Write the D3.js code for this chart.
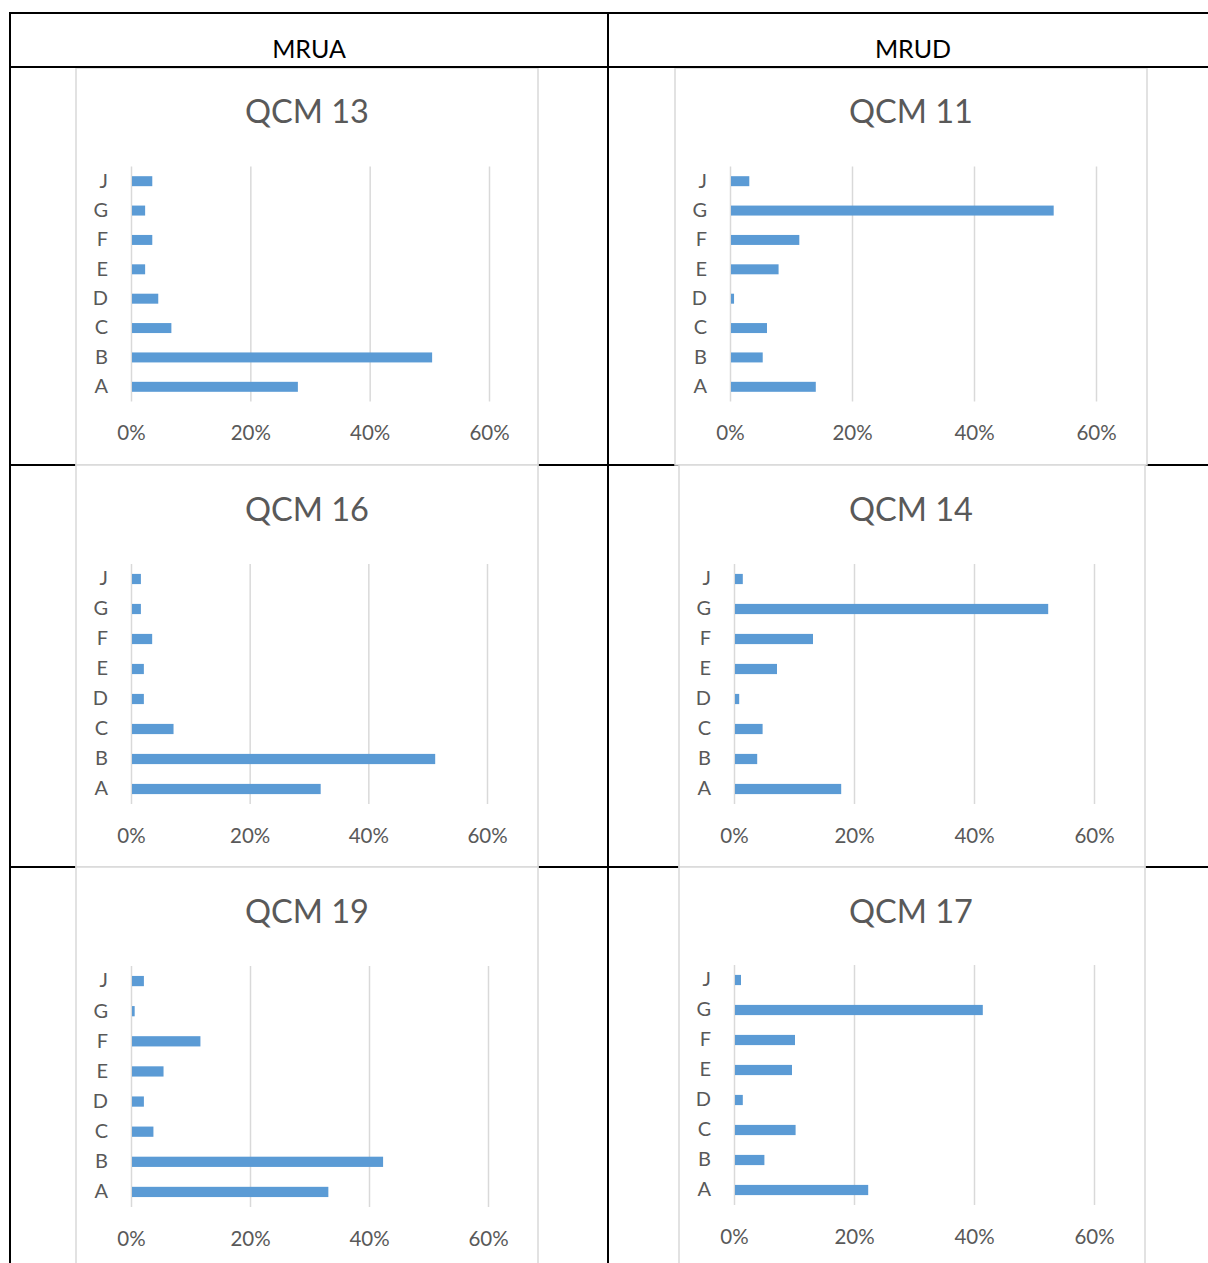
<!DOCTYPE html>
<html>
<head>
<meta charset="utf-8">
<script src="https://cdn.jsdelivr.net/npm/d3@7"></script>
<style>
  html, body { margin: 0; padding: 0; background: #fff; }
  svg { display: block; }
</style>
</head>
<body>
<svg id="chart" width="1208" height="1263"></svg>
<script>
// ---------- DATA ----------
const categories = ["J", "G", "F", "E", "D", "C", "B", "A"];
const columnHeaders = ["MRUA", "MRUD"];
const chartTitles = ["QCM 13", "QCM 11", "QCM 16", "QCM 14", "QCM 19", "QCM 17"];
const xTicks = [0, 20, 40, 60];

// values in percent, in category order J, G, F, E, D, C, B, A
const qcm13 = [3.4, 2.2, 3.4, 2.2, 4.4, 6.6, 50.3, 27.8];
const qcm11 = [3.0, 52.9, 11.2, 7.8, 0.5, 5.9, 5.2, 13.9];
const qcm16 = [1.5, 1.5, 3.4, 2.0, 2.0, 7.0, 51.1, 31.8];
const qcm14 = [1.3, 52.2, 13.0, 7.0, 0.7, 4.6, 3.7, 17.7];
const qcm19 = [2.0, 0.45, 11.5, 5.3, 2.0, 3.6, 42.2, 33.0];
const qcm17 = [1.0, 41.3, 10.0, 9.5, 1.3, 10.1, 4.9, 22.2];

const seriesList = [qcm13, qcm11, qcm16, qcm14, qcm19, qcm17];

// ---------- LAYOUT ----------
const FONT = "Lato, 'Open Sans', sans-serif";
const svg = d3.select("#chart");

const panels = [
  { box: [76, 68, 538, 465],  x0: 131, x1: 489, top: 166.5, bottom: 401.5, tx: 307, ty: 112 },
  { box: [675, 68, 1147, 465], x0: 730, x1: 1096, top: 166.5, bottom: 401.5, tx: 911, ty: 112 },
  { box: [76, 465, 538, 867],  x0: 131, x1: 487, top: 564, bottom: 804, tx: 307, ty: 510 },
  { box: [679, 465, 1145, 867], x0: 734, x1: 1094, top: 564, bottom: 804, tx: 911, ty: 510 },
  { box: [76, 867, 538, 1290], x0: 131, x1: 488, top: 966, bottom: 1207, tx: 307, ty: 912 },
  { box: [679, 867, 1145, 1290], x0: 734, x1: 1094, top: 965, bottom: 1205, tx: 911, ty: 912 }
];

// ---------- TABLE LINES ----------
const tableG = svg.append("g");
const black = "#000";
tableG.append("line").attr("x1", 9).attr("x2", 1208).attr("y1", 13).attr("y2", 13).attr("stroke", black).attr("stroke-width", 2);
tableG.append("line").attr("x1", 10).attr("x2", 10).attr("y1", 12).attr("y2", 1263).attr("stroke", black).attr("stroke-width", 2);
tableG.append("line").attr("x1", 608).attr("x2", 608).attr("y1", 12).attr("y2", 1263).attr("stroke", black).attr("stroke-width", 2);
[465, 867].forEach(y => {
  tableG.append("line").attr("x1", 9).attr("x2", 1208).attr("y1", y).attr("y2", y).attr("stroke", black).attr("stroke-width", 2);
});

const headerCenters = [309, 913];
columnHeaders.forEach((h, i) => {
  tableG.append("text")
    .attr("x", headerCenters[i]).attr("y", 58)
    .attr("text-anchor", "middle")
    .attr("font-family", FONT)
    .attr("font-size", 25)
    .attr("fill", "#000")
    .text(h);
});

// ---------- CHARTS ----------
panels.forEach((p, i) => {
  const data = categories.map((c, k) => ({ cat: c, v: seriesList[i][k] }));
  const g = svg.append("g");
  const [bx0, by0, bx1, by1] = p.box;

  g.append("rect")
    .attr("x", bx0).attr("y", by0)
    .attr("width", bx1 - bx0).attr("height", by1 - by0)
    .attr("fill", "#fff")
    .attr("stroke", "#d9d9d9").attr("stroke-width", 1.5);

  const x = d3.scaleLinear().domain([0, 60]).range([p.x0, p.x1]);
  const y = d3.scaleBand().domain(categories).range([p.top, p.bottom]).paddingInner(0.66).paddingOuter(0.33);

  g.append("g")
    .attr("transform", `translate(0,${p.bottom})`)
    .call(d3.axisBottom(x).tickValues(xTicks).tickSize(-(p.bottom - p.top)).tickFormat(""))
    .call(s => s.select(".domain").remove())
    .call(s => s.selectAll(".tick line").attr("stroke", "#d9d9d9").attr("stroke-width", 1.5));

  g.append("g")
    .attr("transform", `translate(0,${p.bottom})`)
    .call(d3.axisBottom(x).tickValues(xTicks).tickSize(0).tickPadding(24).tickFormat(d => d + "%"))
    .call(s => s.select(".domain").remove())
    .call(s => s.selectAll(".tick text")
      .attr("font-family", FONT).attr("font-size", 20.5).attr("fill", "#595959"));

  g.append("g")
    .attr("transform", `translate(${p.x0 - 23},0)`)
    .call(d3.axisLeft(y).tickSize(0).tickPadding(0))
    .call(s => s.select(".domain").remove())
    .call(s => s.selectAll(".tick text")
      .attr("font-family", FONT).attr("font-size", 20).attr("fill", "#595959"));

  g.selectAll("rect.bar")
    .data(data)
    .join("rect")
    .attr("class", "bar")
    .attr("x", x(0) + 1)
    .attr("y", d => y(d.cat))
    .attr("width", d => Math.max(0, x(d.v) - x(0)))
    .attr("height", y.bandwidth())
    .attr("fill", "#5b9bd5");

  g.append("text")
    .attr("x", p.tx).attr("y", p.ty + 11)
    .attr("text-anchor", "middle")
    .attr("font-family", FONT)
    .attr("font-size", 32.5)
    .attr("fill", "#595959")
    .text(chartTitles[i]);
});

svg.append("line").attr("x1", 9).attr("x2", 1208).attr("y1", 67).attr("y2", 67).attr("stroke", black).attr("stroke-width", 2);
</script>
</body>
</html>
